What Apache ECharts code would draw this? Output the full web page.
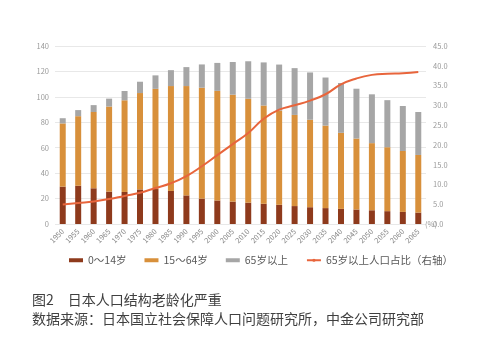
<!DOCTYPE html>
<html>
<head>
<meta charset="utf-8">
<script src="https://cdn.jsdelivr.net/npm/echarts@6/dist/echarts.min.js"></script>
<style>
html,body{margin:0;padding:0;background:#fff;}
#chart{width:481px;height:357px;}
</style>
</head>
<body>
<div id="chart"></div>
<script>
var years = ['1950','1955','1960','1965','1970','1975','1980','1985','1990','1995','2000','2005','2010','2015','2020','2025','2030','2035','2040','2045','2050','2055','2060','2065'];
var age0to14 = [29.4,30.1,28.1,25.5,25.2,27.2,27.5,26.0,22.5,20.0,18.5,17.6,16.8,15.9,15.1,14.1,13.2,12.5,11.9,11.4,10.8,10.1,9.5,9.0];
var age15to64 = [49.7,54.7,60.0,66.9,72.1,75.8,78.8,82.5,86.0,87.2,86.2,84.1,81.7,77.3,74.1,71.7,68.8,64.9,59.8,55.8,52.8,50.3,47.9,45.3];
var age65plus = [4.1,4.8,5.4,6.2,7.3,8.9,10.6,12.5,14.9,18.3,22.0,25.7,29.5,33.9,36.2,36.8,37.2,37.8,39.2,39.2,38.4,37.0,35.4,33.8];
var share65 = [4.9,5.3,5.7,6.3,7.1,7.9,9.1,10.3,12.1,14.6,17.4,20.2,23.0,26.6,28.9,30.0,31.2,32.8,35.3,36.8,37.7,38.0,38.1,38.4];
var leftTicks = [0,140,20];
var rightTicks = [0,45,5];
var seriesNames = ['0～14岁','15～64岁','65岁以上','65岁以上人口占比（右轴）'];
var captionTitle = '图2　日本人口结构老龄化严重';
var captionSource = '数据来源：日本国立社会保障人口问题研究所，中金公司研究部';

var font = "'Noto Sans CJK SC', 'Noto Sans', sans-serif";
var chart = echarts.init(document.getElementById('chart'), null, {renderer:'canvas'});
chart.setOption({
  animation:false,
  textStyle:{fontFamily:font},
  title:[
    {text:captionTitle, left:32, top:293, padding:0, textStyle:{fontSize:14, fontWeight:'normal', color:'#404040', fontFamily:font}},
    {text:captionSource, left:32, top:312, padding:0, textStyle:{fontSize:14, fontWeight:'normal', color:'#404040', fontFamily:font}}
  ],
  legend:{
    left:69, top:255, padding:0, itemWidth:14, itemHeight:4, itemGap:18,
    textStyle:{fontSize:10.5, color:'#595959', fontFamily:font},
    data:[
      {name:seriesNames[0], icon:'rect'},
      {name:seriesNames[1], icon:'rect'},
      {name:seriesNames[2], icon:'rect'},
      {name:seriesNames[3]}
    ]
  },
  grid:{left:55, right:55, top:46, bottom:133},
  xAxis:{
    type:'category', data:years, boundaryGap:true,
    name:'(%)', nameLocation:'end', nameGap:-1, nameMoveOverlap:false,
    nameTextStyle:{fontSize:7.5, color:'#999', align:'left', verticalAlign:'middle', padding:[3,0,0,0]},
    axisLine:{show:false}, axisTick:{show:false},
    axisLabel:{rotate:45, fontSize:7.5, color:'#888', margin:6, interval:0, fontFamily:font}
  },
  yAxis:[
    {type:'value', min:leftTicks[0], max:leftTicks[1], interval:leftTicks[2],
     axisLine:{show:false}, axisTick:{show:false},
     axisLabel:{fontSize:7.5, color:'#999', margin:6, fontFamily:font},
     splitLine:{lineStyle:{color:'#e8e8e8', width:1}}},
    {type:'value', min:rightTicks[0], max:rightTicks[1], interval:rightTicks[2],
     axisLine:{show:false}, axisTick:{show:false},
     axisLabel:{fontSize:7.5, color:'#999', margin:7, formatter:function(v){return v.toFixed(1);}, fontFamily:font},
     splitLine:{show:false}}
  ],
  series:[
    {name:seriesNames[0], type:'bar', stack:'pop', barWidth:6, data:age0to14, itemStyle:{color:'#8E3A1C'}},
    {name:seriesNames[1], type:'bar', stack:'pop', barWidth:6, data:age15to64, itemStyle:{color:'#D8903B'}},
    {name:seriesNames[2], type:'bar', stack:'pop', barWidth:6, data:age65plus, itemStyle:{color:'#A6A6A6'}},
    {name:seriesNames[3], type:'line', yAxisIndex:1, data:share65, smooth:true, symbol:'none',
     lineStyle:{color:'#E8653C', width:2}, itemStyle:{color:'#E8653C'}, z:5}
  ]
});
</script>
</body>
</html>
